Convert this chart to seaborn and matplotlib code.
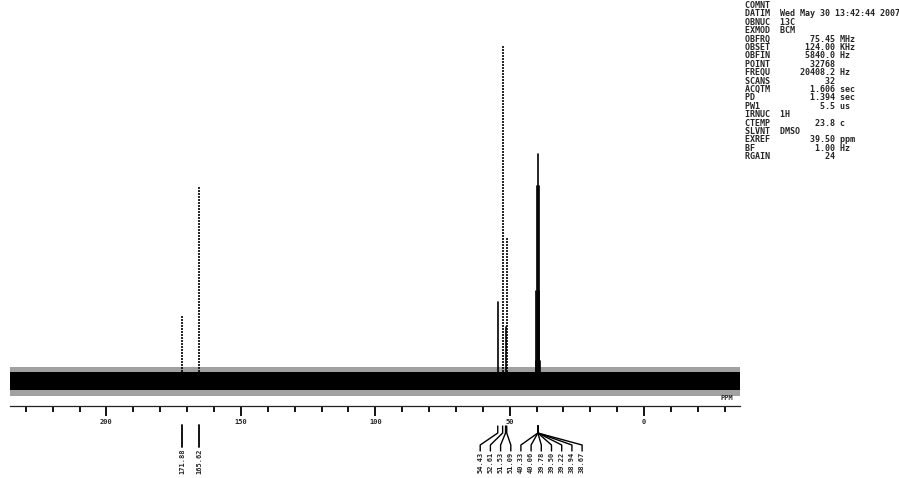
import matplotlib
matplotlib.use("Agg")
import matplotlib.pyplot as plt
import matplotlib.transforms as mtransforms
import pandas as pd
import seaborn as sns

# 13C peak list: chemical shift (ppm) and intensity above the baseline
peak_ppm = [171.88, 165.62, 54.43, 52.61, 51.53, 51.09,
            40.33, 40.06, 39.78, 39.50, 39.22, 38.94, 38.67]
peak_height = [65, 194, 79, 336, 54, 143,
               20, 90, 195, 227, 195, 90, 20]
peak_trace = ["dotted", "dotted", "solid", "dotted", "solid", "dotted",
              "solid", "solid", "solid", "solid", "solid", "solid", "solid"]

# Peak-pick labels, grouped as they are fanned out under the axis
single_labels = ["171.88", "165.62"]
group_a_labels = ["54.43", "52.61", "51.53", "51.09"]
group_b_labels = ["40.33", "40.06", "39.78", "39.50", "39.22", "38.94", "38.67"]

# Axis ticks
major_ticks = [200, 150, 100, 50, 0]
major_labels = ["200", "150", "100", "50", "0"]
minor_ticks = list(range(-30, 231, 10))

# Baseline noise envelope
noise_core = (-9, 9)
noise_fringe = (-15, 14)

# Acquisition parameters
param_names = ["COMNT", "DATIM", "OBNUC", "EXMOD", "OBFRQ", "OBSET", "OBFIN",
               "POINT", "FREQU", "SCANS", "ACQTM", "PD", "PW1", "IRNUC",
               "CTEMP", "SLVNT", "EXREF", "BF", "RGAIN"]
param_values = ["", "Wed May 30 13:42:44 2007", "13C", "BCM", "75.45", "124.00",
                "5840.0", "32768", "20408.2", "32", "1.606", "1.394", "5.5",
                "1H", "23.8", "DMSO", "39.50", "1.00", "24"]
param_units = ["", "", "", "", "MHz", "KHz", "Hz", "", "Hz", "", "sec", "sec",
               "us", "", "c", "", "ppm", "Hz", ""]
param_text_values = {"DATIM", "OBNUC", "EXMOD", "IRNUC", "SLVNT", "COMNT"}

sns.set_style("white")
plt.rcParams["font.family"] = ["DejaVu Sans Mono", "DejaVu Sans"]
plt.rcParams["xtick.bottom"] = True

W, H = 899, 478
fig = plt.figure(figsize=(W / 100, H / 100), dpi=100)
ax_left, ax_right, ax_bottom = 10, 740, 406
ax = fig.add_axes([ax_left / W, 1 - ax_bottom / H, (ax_right - ax_left) / W, ax_bottom / H])

x_hi, x_lo = 235.9, -35.7
ax.set_xlim(x_hi, x_lo)
ax.set_ylim(-25, 381)

# Baseline noise band
ax.fill_between([x_hi, x_lo], noise_fringe[0], noise_fringe[1], color="#555555", lw=0, alpha=0.55)
ax.fill_between([x_hi, x_lo], noise_core[0], noise_core[1], color="black", lw=0)

# Stick spectrum
rows = []
for i, (p, h, t) in enumerate(zip(peak_ppm, peak_height, peak_trace)):
    rows.append({"ppm": p, "intensity": 0, "peak": i, "trace": t})
    rows.append({"ppm": p, "intensity": h, "peak": i, "trace": t})
df = pd.DataFrame(rows)
sns.lineplot(data=df, x="ppm", y="intensity", units="peak", estimator=None,
             style="trace", dashes={"solid": "", "dotted": (1.2, 0.6)},
             color="black", linewidth=1.2, sort=False, legend=False, ax=ax)

ax.set_xlabel("")
ax.set_ylabel("")
ax.set_yticks([])
for s in ["left", "right", "top"]:
    ax.spines[s].set_visible(False)
ax.spines["bottom"].set_color("#222222")
ax.spines["bottom"].set_linewidth(0.9)

ax.set_xticks(major_ticks)
ax.set_xticklabels(major_labels)
ax.set_xticks(minor_ticks, minor=True)
ax.tick_params(axis="x", which="major", bottom=True, direction="out", length=7,
               width=1.3, color="black", labelsize=5, pad=2.5)
ax.tick_params(axis="x", which="minor", bottom=True, direction="out", length=4,
               width=1.3, color="black")
for lab in ax.get_xticklabels():
    lab.set_fontweight("bold")

trans = mtransforms.blended_transform_factory(ax.transData, fig.transFigure)
ax.text(-31, 1 - 401 / H, "PPM", transform=trans, fontsize=5, fontweight="bold",
        ha="center", va="bottom")

def yf(pix):
    return 1 - pix / H

ppm_per_px = (x_hi - x_lo) / (ax_right - ax_left)

# Single peak labels: straight leaders
for lab in single_labels:
    p = peak_ppm[[f"{v:.2f}" for v in peak_ppm].index(lab)]
    ax.plot([p, p], [yf(425), yf(447)], transform=trans, color="black",
            lw=1.3, clip_on=False)
    ax.text(p, yf(449), lab, transform=trans, rotation=90, fontsize=5,
            fontweight="bold", ha="center", va="top", clip_on=False)

def fan(labels, stems, center_px, spacing_px=10.2):
    n = len(labels)
    for i, (lab, s) in enumerate(zip(labels, stems)):
        lx = x_hi - (center_px + (i - (n - 1) / 2) * spacing_px - ax_left) * ppm_per_px
        ax.plot([s, s, lx, lx], [yf(426), yf(433), yf(445), yf(451)],
                transform=trans, color="black", lw=1.0, clip_on=False)
        ax.text(lx, yf(452), lab, transform=trans, rotation=90, fontsize=5,
                fontweight="bold", ha="center", va="top", clip_on=False)

fan(group_a_labels, [float(v) for v in group_a_labels], 495.5)
fan(group_b_labels, [39.50] * len(group_b_labels), 551.5)

# Parameter listing
for i, (n, v, u) in enumerate(zip(param_names, param_values, param_units)):
    if n in param_text_values:
        line = f"{n:<7}{v}"
    else:
        line = f"{n:<7}{v:>11} {u}".rstrip()
    fig.text(745 / W, yf(5.5 + 8.4 * i), line, fontsize=6.0, fontweight="bold",
             family="DejaVu Sans Mono", ha="left", va="center")

fig.savefig("out.png", dpi=100, facecolor="white")
